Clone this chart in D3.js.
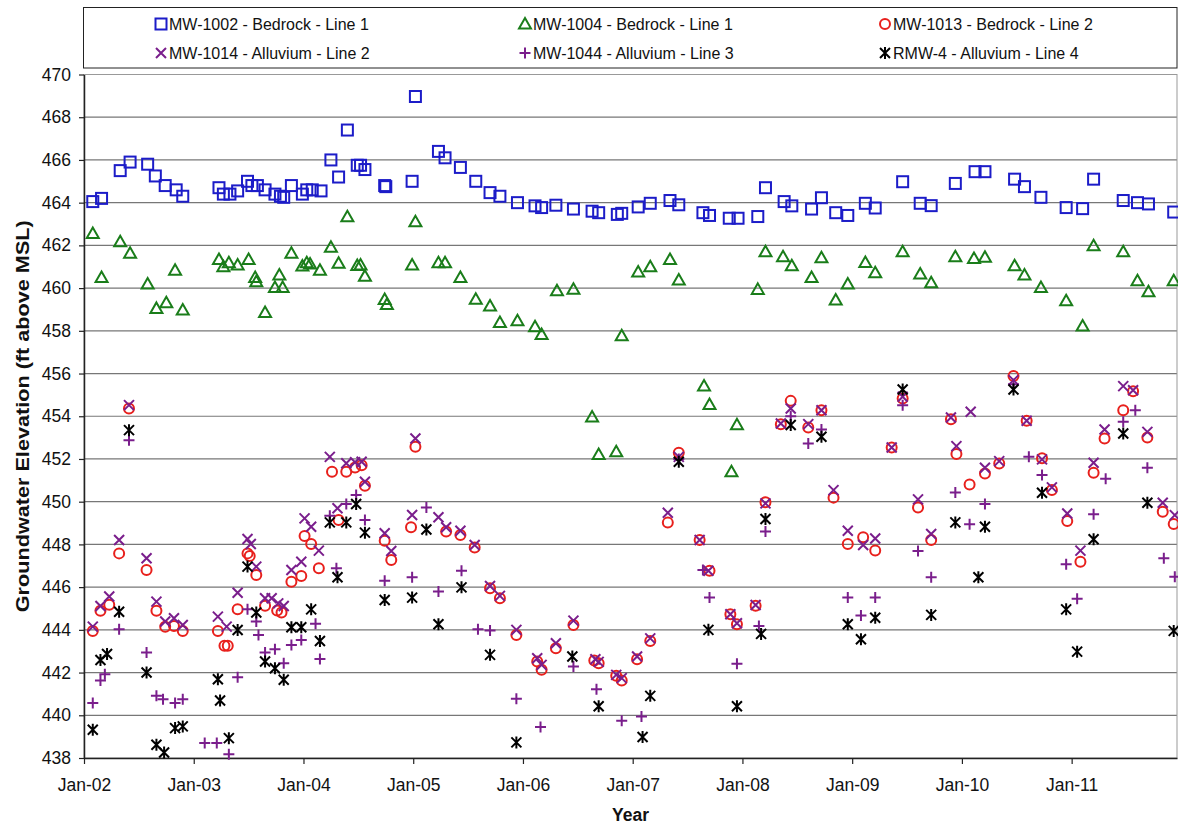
<!DOCTYPE html>
<html><head><meta charset="utf-8">
<script src="https://cdn.jsdelivr.net/npm/d3@7"></script>
<style>body{margin:0;background:#fff} svg{display:block} text{font-family:"Liberation Sans",Arial,sans-serif}</style>
</head><body><svg id="c" width="1178" height="825"></svg>
<script>
// ---- data (x = decimal year, y = ft above MSL) ----
const yearTicks = [2002,2003,2004,2005,2006,2007,2008,2009,2010,2011];
const yearTickLabels = ["Jan-02","Jan-03","Jan-04","Jan-05","Jan-06","Jan-07","Jan-08","Jan-09","Jan-10","Jan-11"];
const elevTicks = [438,440,442,444,446,448,450,452,454,456,458,460,462,464,466,468,470];
const seriesNames = ["MW-1002 - Bedrock - Line 1","MW-1004 - Bedrock - Line 1","MW-1013 - Bedrock - Line 2",
                     "MW-1014 - Alluvium - Line 2","MW-1044 - Alluvium - Line 3","RMW-4 - Alluvium - Line 4"];

const mw1002 = [[2002.08,464.05],[2002.16,464.2],[2002.33,465.5],[2002.42,465.9],[2002.58,465.8],[2002.65,465.25],[2002.74,464.8],[2002.84,464.6],[2002.90,464.3],[2003.23,464.7],[2003.27,464.4],[2003.33,464.4],[2003.40,464.55],[2003.49,465.0],[2003.53,464.8],[2003.58,464.8],[2003.65,464.6],[2003.74,464.4],[2003.79,464.3],[2003.82,464.25],[2003.89,464.8],[2003.99,464.4],[2004.03,464.6],[2004.08,464.6],[2004.16,464.55],[2004.25,466.0],[2004.32,465.2],[2004.40,467.4],[2004.49,465.75],[2004.52,465.75],[2004.56,465.55],[2004.74,464.8],[2004.75,464.75],[2004.99,465.0],[2005.02,468.97],[2005.23,466.4],[2005.29,466.1],[2005.43,465.65],[2005.57,465.0],[2005.70,464.47],[2005.79,464.3],[2005.95,464.0],[2006.11,463.85],[2006.17,463.77],[2006.30,463.88],[2006.46,463.7],[2006.63,463.6],[2006.69,463.53],[2006.86,463.45],[2006.90,463.5],[2007.05,463.8],[2007.16,463.97],[2007.34,464.1],[2007.42,463.9],[2007.64,463.53],[2007.70,463.4],[2007.88,463.27],[2007.96,463.27],[2008.14,463.35],[2008.21,464.7],[2008.38,464.05],[2008.45,463.85],[2008.63,463.7],[2008.72,464.23],[2008.85,463.53],[2008.96,463.4],[2009.12,463.97],[2009.21,463.75],[2009.46,464.98],[2009.62,463.97],[2009.72,463.86],[2009.94,464.9],[2010.12,465.45],[2010.21,465.45],[2010.48,465.1],[2010.57,464.75],[2010.72,464.25],[2010.95,463.77],[2011.10,463.72],[2011.20,465.1],[2011.47,464.1],[2011.60,464.0],[2011.70,463.94],[2011.93,463.56]];

const mw1004 = [[2002.08,462.56],[2002.16,460.5],[2002.33,462.17],[2002.42,461.63],[2002.58,460.19],[2002.66,459.05],[2002.75,459.31],[2002.83,460.84],[2002.90,458.97],[2003.23,461.34],[2003.27,461.0],[2003.32,461.19],[2003.40,461.08],[2003.50,461.34],[2003.56,460.5],[2003.57,460.3],[2003.65,458.86],[2003.74,460.03],[2003.78,460.61],[2003.81,460.03],[2003.89,461.63],[2003.99,461.03],[2004.03,461.19],[2004.06,461.13],[2004.15,460.84],[2004.25,461.91],[2004.32,461.16],[2004.40,463.34],[2004.49,461.06],[2004.52,461.08],[2004.56,460.56],[2004.74,459.47],[2004.76,459.23],[2004.99,461.08],[2005.02,463.11],[2005.23,461.19],[2005.29,461.19],[2005.43,460.5],[2005.57,459.48],[2005.70,459.16],[2005.79,458.39],[2005.95,458.47],[2006.11,458.19],[2006.17,457.83],[2006.31,459.88],[2006.46,459.95],[2006.63,453.97],[2006.69,452.21],[2006.85,452.34],[2006.90,457.77],[2007.05,460.75],[2007.16,461.0],[2007.34,461.34],[2007.42,460.38],[2007.65,455.42],[2007.70,454.55],[2007.90,451.4],[2007.95,453.6],[2008.14,459.94],[2008.21,461.7],[2008.37,461.47],[2008.45,461.05],[2008.63,460.5],[2008.72,461.42],[2008.85,459.44],[2008.96,460.19],[2009.12,461.2],[2009.21,460.72],[2009.46,461.7],[2009.62,460.66],[2009.72,460.25],[2009.94,461.47],[2010.11,461.39],[2010.21,461.44],[2010.48,461.05],[2010.57,460.61],[2010.72,460.03],[2010.95,459.41],[2011.10,458.22],[2011.20,461.98],[2011.47,461.7],[2011.60,460.34],[2011.70,459.83],[2011.93,460.34]];

const mw1013 = [[2002.08,443.95],[2002.15,444.89],[2002.23,445.17],[2002.32,447.58],[2002.41,454.36],[2002.57,446.8],[2002.66,444.89],[2002.74,444.15],[2002.82,444.18],[2002.90,443.95],[2003.22,443.95],[2003.28,443.25],[2003.31,443.25],[2003.40,444.96],[2003.49,447.58],[2003.51,447.46],[2003.57,446.57],[2003.65,445.13],[2003.76,444.9],[2003.80,444.81],[2003.89,446.25],[2003.98,446.52],[2004.01,448.39],[2004.07,448.02],[2004.14,446.88],[2004.26,451.4],[2004.32,449.14],[2004.39,451.4],[2004.47,451.6],[2004.53,451.71],[2004.56,450.75],[2004.74,448.17],[2004.80,447.27],[2004.98,448.8],[2005.02,452.57],[2005.30,448.6],[2005.43,448.44],[2005.56,447.86],[2005.70,445.95],[2005.79,445.48],[2005.94,443.76],[2006.13,442.52],[2006.17,442.13],[2006.30,443.14],[2006.46,444.23],[2006.65,442.56],[2006.69,442.44],[2006.85,441.85],[2006.90,441.63],[2007.04,442.62],[2007.16,443.48],[2007.32,449.02],[2007.42,452.29],[2007.61,448.21],[2007.70,446.77],[2007.89,444.73],[2007.95,444.26],[2008.12,445.13],[2008.21,449.97],[2008.35,453.63],[2008.44,454.72],[2008.60,453.47],[2008.72,454.28],[2008.83,450.19],[2008.96,448.02],[2009.10,448.33],[2009.21,447.71],[2009.36,452.54],[2009.46,454.83],[2009.60,449.73],[2009.72,448.21],[2009.90,453.86],[2009.95,452.23],[2010.07,450.81],[2010.21,451.32],[2010.34,451.79],[2010.47,455.88],[2010.59,453.79],[2010.73,452.03],[2010.82,450.55],[2010.96,449.09],[2011.08,447.19],[2011.20,451.35],[2011.30,452.96],[2011.47,454.28],[2011.56,455.17],[2011.69,453.01],[2011.83,449.53],[2011.93,448.95]];

const mw1014 = [[2002.08,444.15],[2002.15,445.12],[2002.23,445.56],[2002.32,448.21],[2002.41,454.52],[2002.57,447.35],[2002.66,445.32],[2002.74,444.39],[2002.82,444.54],[2002.90,444.23],[2003.22,444.62],[2003.30,444.15],[2003.40,445.74],[2003.49,448.25],[2003.52,448.02],[2003.57,446.96],[2003.65,445.48],[2003.71,445.48],[2003.77,445.24],[2003.82,445.12],[2003.89,446.8],[2003.98,447.19],[2004.01,449.22],[2004.07,448.83],[2004.14,447.71],[2004.24,452.1],[2004.31,449.69],[2004.39,451.8],[2004.47,451.85],[2004.53,451.87],[2004.56,450.93],[2004.74,448.52],[2004.80,447.69],[2004.99,449.38],[2005.02,452.96],[2005.23,449.27],[2005.30,448.8],[2005.43,448.64],[2005.56,447.97],[2005.70,446.05],[2005.79,445.59],[2005.94,444.0],[2006.13,442.67],[2006.17,442.36],[2006.30,443.37],[2006.46,444.43],[2006.66,442.62],[2006.69,442.5],[2006.85,441.89],[2006.90,441.74],[2007.04,442.75],[2007.16,443.6],[2007.32,449.48],[2007.42,452.1],[2007.61,448.21],[2007.69,446.77],[2007.89,444.73],[2007.95,444.31],[2008.12,445.16],[2008.21,449.92],[2008.35,453.66],[2008.44,454.36],[2008.60,453.63],[2008.72,454.28],[2008.83,450.54],[2008.96,448.64],[2009.10,447.97],[2009.21,448.28],[2009.36,452.54],[2009.46,454.91],[2009.60,450.11],[2009.72,448.49],[2009.90,453.94],[2009.95,452.6],[2010.08,454.21],[2010.21,451.59],[2010.34,451.9],[2010.47,455.69],[2010.59,453.79],[2010.73,451.98],[2010.82,450.67],[2010.96,449.45],[2011.08,447.71],[2011.20,451.82],[2011.30,453.38],[2011.47,455.41],[2011.56,455.22],[2011.69,453.27],[2011.83,449.95],[2011.94,449.37]];

const mw1044 = [[2002.08,440.57],[2002.15,441.63],[2002.19,441.92],[2002.32,444.03],[2002.41,452.88],[2002.57,442.94],[2002.66,440.91],[2002.72,440.75],[2002.83,440.57],[2002.90,440.75],[2003.10,438.7],[2003.21,438.7],[2003.32,438.18],[2003.40,441.78],[2003.49,444.96],[2003.57,444.39],[2003.59,443.76],[2003.65,442.94],[2003.74,443.09],[2003.82,442.44],[2003.89,443.29],[2003.98,443.53],[2004.11,444.28],[2004.15,442.64],[2004.24,449.34],[2004.30,446.88],[2004.39,449.89],[2004.48,450.31],[2004.56,449.14],[2004.74,446.3],[2004.99,446.46],[2005.12,449.73],[2005.23,445.79],[2005.44,446.77],[2005.59,444.03],[2005.70,443.97],[2005.94,440.77],[2006.16,439.45],[2006.46,442.28],[2006.67,441.22],[2006.90,439.74],[2007.08,439.94],[2007.42,452.0],[2007.64,446.8],[2007.70,445.51],[2007.95,442.41],[2008.15,444.18],[2008.21,448.61],[2008.44,454.0],[2008.60,452.73],[2008.72,453.38],[2008.96,445.51],[2009.08,444.67],[2009.21,445.51],[2009.46,454.52],[2009.60,447.69],[2009.72,446.46],[2009.94,450.43],[2010.07,448.94],[2010.21,449.89],[2010.47,455.5],[2010.61,452.1],[2010.73,451.25],[2010.95,447.07],[2011.05,445.45],[2011.20,449.41],[2011.31,451.07],[2011.47,453.74],[2011.58,454.28],[2011.69,451.59],[2011.84,447.35],[2011.94,446.49]];

const rmw4 = [[2002.08,439.32],[2002.15,442.59],[2002.21,442.87],[2002.32,444.85],[2002.41,453.35],[2002.57,442.0],[2002.66,438.62],[2002.73,438.26],[2002.83,439.4],[2002.90,439.48],[2003.22,441.69],[2003.24,440.69],[2003.32,438.93],[2003.40,443.99],[2003.49,446.96],[2003.57,444.81],[2003.65,442.52],[2003.74,442.2],[2003.82,441.66],[2003.89,444.12],[2003.98,444.12],[2004.07,444.96],[2004.15,443.48],[2004.24,449.03],[2004.31,446.46],[2004.39,449.03],[2004.48,449.89],[2004.56,448.55],[2004.74,445.4],[2004.99,445.51],[2005.12,448.7],[2005.23,444.26],[2005.44,445.99],[2005.70,442.83],[2005.94,438.73],[2006.45,442.75],[2006.69,440.42],[2007.09,438.98],[2007.16,440.91],[2007.42,451.87],[2007.69,444.0],[2007.95,440.42],[2008.17,443.81],[2008.21,449.19],[2008.44,453.59],[2008.72,453.04],[2008.96,444.26],[2009.08,443.56],[2009.21,444.57],[2009.46,455.25],[2009.72,444.7],[2009.94,449.03],[2010.15,446.46],[2010.21,448.83],[2010.47,455.25],[2010.73,450.42],[2010.95,444.96],[2011.05,442.98],[2011.20,448.24],[2011.47,453.19],[2011.69,449.95],[2011.93,443.95]];

// ---- chart ----
const svg = d3.select("#c");
const L = 84, R = 1177, T = 74.5, B = 758;
const x = d3.scaleLinear().domain([2002, 2011.96]).range([L, R]);
const y = d3.scaleLinear().domain([438, 470]).range([B, T]);

// gridlines
svg.append("g").selectAll("line").data(elevTicks.filter(v => v > 438)).join("line")
  .attr("x1", L).attr("x2", R).attr("y1", d => y(d)).attr("y2", d => y(d))
  .attr("stroke", "#777").attr("stroke-width", 1.2);
svg.append("rect").attr("x", L).attr("y", T).attr("width", R - L).attr("height", B - T)
  .attr("fill", "none").attr("stroke", "#999").attr("stroke-width", 1);

// axes
const yAxis = svg.append("g").attr("transform", `translate(${L},0)`)
  .call(d3.axisLeft(y).tickValues(elevTicks).tickFormat(d3.format("d")).tickSize(5).tickPadding(8).tickSizeOuter(0));
const xAxis = svg.append("g").attr("transform", `translate(0,${B})`)
  .call(d3.axisBottom(x).tickValues(yearTicks).tickFormat((d, i) => yearTickLabels[i]).tickSize(6).tickPadding(15).tickSizeOuter(0));
[yAxis, xAxis].forEach(g => {
  g.select(".domain").attr("stroke", "#222").attr("stroke-width", 1.5);
  g.selectAll(".tick line").attr("stroke", "#222").attr("stroke-width", 1.2);
  g.selectAll("text").attr("font-family", "Liberation Sans, Arial, sans-serif").attr("font-size", 17.5).attr("fill", "#111");
});

// titles
svg.append("text").attr("transform", `translate(24,${(T + B) / 2}) rotate(-90)`)
  .attr("text-anchor", "middle").attr("dominant-baseline", "middle")
  .attr("font-size", 18).attr("font-weight", "bold").attr("fill", "#111")
  .attr("textLength", 392).attr("lengthAdjust", "spacingAndGlyphs")
  .text("Groundwater Elevation (ft above MSL)");
svg.append("text").attr("x", (L + R) / 2).attr("y", 821)
  .attr("text-anchor", "middle").attr("font-size", 17.5).attr("font-weight", "bold").attr("fill", "#111")
  .text("Year");

// markers
const markers = {
  square: g => g.append("rect").attr("x", -5.5).attr("y", -5.5).attr("width", 11).attr("height", 11),
  triangle: g => g.append("path").attr("d", "M0,-6L6,4.5L-6,4.5Z"),
  circle: g => g.append("circle").attr("r", 5),
  cross: g => g.append("path").attr("d", "M-5,-5L5,5M-5,5L5,-5"),
  plus: g => g.append("path").attr("d", "M-5.5,0H5.5M0,-5.5V5.5"),
  star: g => g.append("path").attr("d", "M-5,-5L5,5M-5,5L5,-5M0,-6V6")
};
const series = [
  {name: seriesNames[0], data: mw1002, shape: "square", color: "#1c1cc8"},
  {name: seriesNames[1], data: mw1004, shape: "triangle", color: "#1a7d1a"},
  {name: seriesNames[2], data: mw1013, shape: "circle", color: "#e8201c"},
  {name: seriesNames[3], data: mw1014, shape: "cross", color: "#7a1e8c"},
  {name: seriesNames[4], data: mw1044, shape: "plus", color: "#7a1e8c"},
  {name: seriesNames[5], data: rmw4, shape: "star", color: "#000000"}
];
series.forEach(s => {
  const g = svg.append("g").attr("fill", "none").attr("stroke", s.color).attr("stroke-width", 2);
  g.selectAll("g").data(s.data).join("g")
    .attr("transform", d => `translate(${x(d[0])},${y(d[1])})`)
    .each(function () { markers[s.shape](d3.select(this)); });
});

// legend
svg.append("rect").attr("x", 83.5).attr("y", 7.5).attr("width", R - 83.5).attr("height", 60.5)
  .attr("fill", "#fff").attr("stroke", "#222").attr("stroke-width", 1);
const legCols = [161, 525, 885], legRows = [24, 53];
series.forEach((s, i) => {
  const cx = legCols[i % 3], cy = legRows[Math.floor(i / 3)];
  const g = svg.append("g").attr("transform", `translate(${cx},${cy})`)
    .attr("fill", "none").attr("stroke", s.color).attr("stroke-width", 2);
  markers[s.shape](g);
  svg.append("text").attr("x", cx + 8).attr("y", cy).attr("dominant-baseline", "central")
    .attr("font-size", 16).attr("fill", "#111").text(s.name);
});
</script></body></html>
